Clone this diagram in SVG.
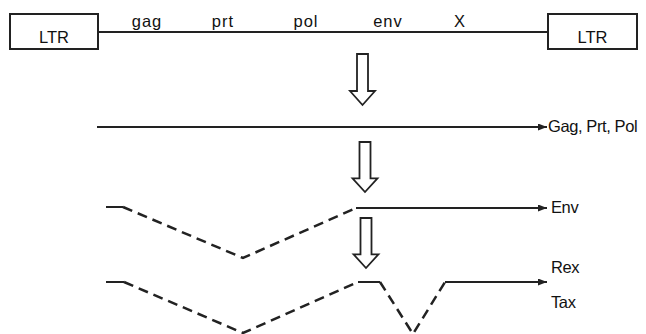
<svg xmlns="http://www.w3.org/2000/svg" width="646" height="334" viewBox="0 0 646 334">
<style>
.box{fill:#fff;stroke:#222;stroke-width:2}
.ln{fill:none;stroke:#222;stroke-width:2}
.ds{fill:none;stroke:#222;stroke-width:2.5;stroke-dasharray:10 6}
.t{font-family:"Liberation Sans",Arial,sans-serif;font-size:16.5px;fill:#111}
.top{letter-spacing:1px}
.rt{letter-spacing:-0.4px}
.ha{fill:#fff;stroke:#222;stroke-width:1.8;stroke-linejoin:miter}
</style>
<defs>
<marker id="ah" markerUnits="userSpaceOnUse" markerWidth="10" markerHeight="8" refX="9" refY="3.5" orient="auto">
<path d="M0,0 L9,3.5 L0,7 z" fill="#222"/>
</marker>
<path id="hollow" d="M-5.5,0 H5.5 V37 H12.5 L0,51 L-12.5,37 H-5.5 Z"/>
</defs>
<g id="genome">
<line class="ln" x1="98" y1="32" x2="548" y2="32"/>
<text class="t top" x="147" y="27" text-anchor="middle">gag</text>
<text class="t top" x="223" y="27" text-anchor="middle">prt</text>
<text class="t top" x="306" y="27" text-anchor="middle">pol</text>
<text class="t top" x="388" y="27" text-anchor="middle">env</text>
<text class="t top" x="460" y="27" text-anchor="middle">X</text>
</g>
<g id="ltr-left">
<rect class="box" x="10" y="14" width="88" height="35"/>
<text class="t" x="54" y="43" text-anchor="middle">LTR</text>
</g>
<g id="ltr-right">
<rect class="box" x="548" y="14" width="89" height="35"/>
<text class="t" x="592.5" y="43" text-anchor="middle">LTR</text>
</g>
<g id="step-arrows">
<use href="#hollow" class="ha" transform="translate(362.5,54)"/>
<use href="#hollow" class="ha" transform="translate(365,142) scale(1,0.98)"/>
<use href="#hollow" class="ha" transform="translate(366,218) scale(1,0.98)"/>
</g>
<g id="connectors">
<line class="ln" x1="97" y1="127" x2="547" y2="127" marker-end="url(#ah)"/>
<polyline class="ln" points="106,207 123,207"/>
<polyline class="ds" points="123,207 243,258 356,208"/>
<line class="ln" x1="356" y1="208" x2="547" y2="208" marker-end="url(#ah)"/>
<polyline class="ln" points="106,282 124,282"/>
<polyline class="ds" points="124,282 243,333 358,282"/>
<polyline class="ln" points="358,282 380,282"/>
<polyline class="ds" points="380,282 413,334 445,282"/>
<line class="ln" x1="445" y1="282" x2="547" y2="282" marker-end="url(#ah)"/>
</g>
<g id="labels">
<text class="t rt" x="548" y="132">Gag, Prt, Pol</text>
<text class="t rt" x="551" y="213">Env</text>
<text class="t rt" x="551" y="273">Rex</text>
<text class="t rt" x="551" y="308">Tax</text>
</g>
</svg>
